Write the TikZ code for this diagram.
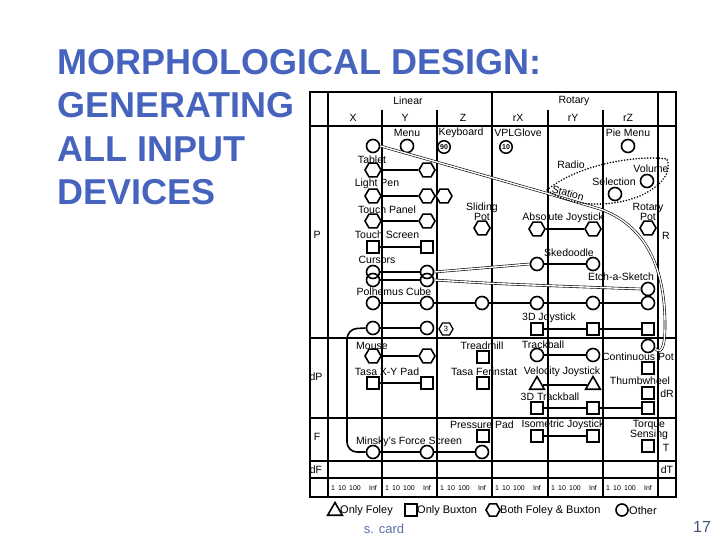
\documentclass[tikz,border=0pt]{standalone}
\usepackage{fontspec}
\setmainfont{Liberation Sans}
\usepackage{xcolor}
\definecolor{titreBleu}{HTML}{4664BE}
\definecolor{piedBleu}{HTML}{5A6EA6}
\definecolor{numBleu}{HTML}{44527E}
\usepackage{tikz}
\usetikzlibrary{shapes.geometric}
\tikzset{
  %% ── Grid ─────────────────────────────────────────────────────────────
  cadre/.style       = {line width=2.6pt},
  trait/.style       = {line width=2.2pt},
  %%
  %% ── Devices ──────────────────────────────────────────────────────────
  noeud/.style       = {draw, line width=1.6pt, inner sep=0pt, fill=white},
  noeudRond/.style   = {noeud, circle, minimum size=13pt},
  noeudHexa/.style   = {noeud, regular polygon, regular polygon sides=6,
                        minimum size=16pt},
  noeudCarre/.style  = {noeud, rectangle, minimum size=12pt},
  noeudTri/.style    = {noeud, regular polygon, regular polygon sides=3,
                        minimum size=17pt},
  noeudNum/.style    = {noeudRond, minimum size=12.5pt, line width=1.5pt,
                        font=\fontsize{7}{7}\selectfont\bfseries},
  %%
  %% ── Links ────────────────────────────────────────────────────────────
  lien/.style        = {line width=1.6pt},
  lienDouble/.style  = {draw=black, line width=0.6pt, double=white,
                        double distance=1.4pt},
  lienPointille/.style = {line width=1.7pt, dash pattern=on 0.1pt off 2.8pt,
                        line cap=round},
  %%
  %% ── Text ─────────────────────────────────────────────────────────────
  etiquette/.style   = {font=\fontsize{10.5}{10}\selectfont, inner sep=0pt,
                        align=center},
  entete/.style      = {font=\fontsize{10.5}{11}\selectfont, inner sep=0pt},
  echelle/.style     = {font=\fontsize{7}{8}\selectfont, inner sep=0pt},
  legende/.style     = {font=\fontsize{11}{12}\selectfont, inner sep=0pt,
                        anchor=west},
  titre/.style       = {font=\fontsize{36}{43}\selectfont\bfseries,
                        text=titreBleu, inner sep=0pt, anchor=base west},
}

\begin{document}
\begin{tikzpicture}[x=1pt, y=-1pt]
\useasboundingbox (0,0) rectangle (720,540);

%% title
\node[titre] (titre1) at (57,75)  {MORPHOLOGICAL DESIGN:};
\node[titre] (titre2) at (57,118) {GENERATING};
\node[titre] (titre3) at (57,162) {ALL INPUT};
\node[titre] (titre4) at (57,205) {DEVICES};

%% grid
\draw[cadre] (310,92) rectangle (676,497);
\foreach \y in {126,338,418,461,478} \draw[trait] (310,\y) -- (676,\y);
\foreach \x in {328,492,658} \draw[trait] (\x,92) -- (\x,497);
\foreach \x in {382,437,548,603} \draw[trait] (\x,110) -- (\x,497);

\node[entete] (linear) at (408,101) {Linear};
\node[entete] (rotary) at (574,101) {Rotary};
\node[entete] (colX)  at (353,118) {X};
\node[entete] (colY)  at (405,118) {Y};
\node[entete] (colZ)  at (463,118) {Z};
\node[entete] (colRX) at (518,118) {rX};
\node[entete] (colRY) at (573,118) {rY};
\node[entete] (colRZ) at (628,118) {rZ};

\node[entete] (rowP)  at (317,235) {P};
\node[entete] (rowDP) at (316,377) {dP};
\node[entete] (rowF)  at (317,437) {F};
\node[entete] (rowDF) at (316,470) {dF};
\node[entete] (rowR)  at (666,236) {R};
\node[entete] (rowDR) at (667,394) {dR};
\node[entete] (rowT)  at (666,448) {T};
\node[entete] (rowDT) at (667,470) {dT};

\foreach \c [count=\i] in {328,382,437,492,548,603} {
  \node[echelle] (un\i)   at (\c+5,488)  {1};
  \node[echelle] (dix\i)  at (\c+14,488) {10};
  \node[echelle] (cent\i) at (\c+27,488) {100};
  \node[echelle] (inf\i)  at (\c+45,488) {Inf};
}

%% P row
\node[noeudRond] (menuX) at (373,146) {};
\node[noeudRond] (menuY) at (407,146) {};
\node[etiquette] (lMenu) at (407,133) {Menu};
\node[noeudNum]  (kbd)   at (444,147) {90};
\node[etiquette] (lKbd)  at (461,133) {Keyboard};
\node[noeudNum]  (glove) at (506,147) {10};
\node[etiquette] (lGlove) at (518,133) {VPLGlove};
\node[noeudRond] (pie)   at (628,146) {};
\node[etiquette] (lPie)  at (628,133) {Pie Menu};

\node[etiquette] (lRadio)  at (571,165) {Radio};
\node[etiquette, rotate=-16] (lStation) at (568,193) {Station};
\node[etiquette] (lVolume) at (651,169) {Volume};
\node[noeudRond] (volume)  at (647,181) {};
\node[etiquette] (lSelect) at (614,182) {Selection};
\node[noeudRond] (select)  at (615,194) {};

\node[noeudHexa] (tabX) at (373,170) {};
\node[noeudHexa] (tabY) at (427,170) {};
\node[etiquette] (lTab) at (372,160) {Tablet};
\node[noeudHexa] (penX) at (373,196) {};
\node[noeudHexa] (penY) at (427,196) {};
\node[noeudHexa] (penZ) at (444,196) {};
\node[etiquette] (lPen) at (377,184) {Light Pen};
\node[noeudHexa] (panX) at (373,221) {};
\node[noeudHexa] (panY) at (427,221) {};
\node[etiquette] (lPan) at (387,210) {Touch Panel};
\node[noeudHexa] (slide) at (482,228) {};
\node[etiquette] (lSlide) at (482,212) {Sliding\\Pot};
\node[noeudHexa] (absX) at (537,229) {};
\node[noeudHexa] (absY) at (593,229) {};
\node[etiquette] (lAbs) at (563,218) {Absolute Joystick};
\node[noeudHexa] (rotPot) at (648,228) {};
\node[etiquette] (lRotPot) at (648,212) {Rotary\\Pot};

\node[noeudCarre] (scrX) at (373,247) {};
\node[noeudCarre] (scrY) at (427,247) {};
\node[etiquette] (lScr) at (387,235) {Touch Screen};
\node[noeudRond] (skedX) at (537,264) {};
\node[noeudRond] (skedY) at (593,264) {};
\node[etiquette] (lSked) at (569,253) {Skedoodle};
\node[noeudRond, fill=none] (curAX) at (373,272) {};
\node[noeudRond, fill=none] (curBX) at (373,280) {};
\node[noeudRond, fill=none] (curAY) at (427,272) {};
\node[noeudRond, fill=none] (curBY) at (427,280) {};
\node[etiquette] (lCur) at (377,260) {Cursors};
\node[noeudRond] (etch) at (648,289) {};
\node[etiquette] (lEtch) at (621,277) {Etch-a-Sketch};

\node[noeudRond] (polX)  at (373,303) {};
\node[noeudRond] (polY)  at (427,303) {};
\node[noeudRond] (polZ)  at (482,303) {};
\node[noeudRond] (polRX) at (537,303) {};
\node[noeudRond] (polRY) at (593,303) {};
\node[noeudRond] (polRZ) at (648,303) {};
\node[etiquette] (lPol) at (394,292) {Polhemus Cube};

\node[noeudRond] (sixX) at (373,328) {};
\node[noeudRond] (sixY) at (427,328) {};
\node[noeudHexa, minimum size=14pt, line width=1.3pt,
      font=\fontsize{7.5}{8}\selectfont] (num3) at (446,329) {3};
\node[noeudCarre] (joyX) at (537,329) {};
\node[noeudCarre] (joyY) at (593,329) {};
\node[noeudCarre] (joyZ) at (648,329) {};
\node[etiquette] (lJoy) at (549,318) {3D Joystick};
\node[noeudRond] (cpRond) at (648,346) {};

%% dP row
\node[noeudHexa] (mouseX) at (373,356) {};
\node[noeudHexa] (mouseY) at (427,356) {};
\node[etiquette] (lMouse) at (372,346) {Mouse};
\node[noeudCarre] (tread) at (483,357) {};
\node[etiquette] (lTread) at (482,346) {Treadmill};
\node[noeudRond] (trkX) at (537,355) {};
\node[noeudRond] (trkY) at (593,355) {};
\node[etiquette] (lTrk) at (543,345) {Trackball};
\node[etiquette] (lCp) at (638,357) {Continuous Pot};
\node[noeudCarre] (cpCarre) at (648,368) {};

\node[noeudCarre] (padX) at (373,383) {};
\node[noeudCarre] (padY) at (427,383) {};
\node[etiquette] (lPad) at (387,372) {Tasa X-Y Pad};
\node[noeudCarre] (ferin) at (483,383) {};
\node[etiquette] (lFerin) at (484,372) {Tasa Ferinstat};
\node[noeudTri] (velX) at (537,385) {};
\node[noeudTri] (velY) at (593,385) {};
\node[etiquette] (lVel) at (562,372) {Velocity Joystick};
\node[etiquette] (lThumb) at (640,381) {Thumbwheel};
\node[noeudCarre] (thumb) at (648,393) {};
\node[noeudCarre] (trbX) at (537,408) {};
\node[noeudCarre] (trbY) at (593,408) {};
\node[noeudCarre] (trbZ) at (648,408) {};
\node[etiquette] (lTrb) at (550,397) {3D Trackball};

%% F row
\node[noeudCarre] (press) at (483,436) {};
\node[etiquette] (lPress) at (482,425) {Pressure Pad};
\node[noeudCarre] (isoX) at (537,436) {};
\node[noeudCarre] (isoY) at (593,436) {};
\node[etiquette] (lIso) at (563,425) {Isometric Joystick};
\node[noeudCarre] (torque) at (648,446) {};
\node[etiquette] (lTorque) at (649,430) {Torque\\Sensing};
\node[noeudRond] (minX) at (373,452) {};
\node[noeudRond] (minY) at (427,452) {};
\node[noeudRond] (minZ) at (482,452) {};
\node[etiquette] (lMin) at (409,442) {Minsky's Force Screen};

%% links
\draw[lien] (tabX) -- (tabY);
\draw[lien] (penX) -- (penY);
\draw[lien] (panX) -- (panY);
\draw[lien] (absX) -- (absY);
\draw[lien] (scrX) -- (scrY);
\draw[lien] (skedX) -- (skedY);
\draw[lien] (curAX.east) -- (curAY.west);
\draw[lien] (curBX.east) -- (curBY.west);
\draw[lien] (polX) -- (polY) -- (polZ) -- (polRX) -- (polRY) -- (polRZ);
\draw[lien] (sixX) -- (sixY);
\draw[lien] (joyX) -- (joyY) -- (joyZ);
\draw[lien] (mouseX) -- (mouseY);
\draw[lien] (trkX) -- (trkY);
\draw[lien] (padX) -- (padY);
\draw[lien] (velX) -- (velY);
\draw[lien] (trbX) -- (trbY) -- (trbZ);
\draw[lien] (isoX) -- (isoY);
\draw[lien] (minX) -- (minY) -- (minZ);
\draw[lien, rounded corners=10pt] (sixX.west) -- (347,329) -- (347,452) -- (minX.west);

\draw[lienDouble] (curAY.east) -- (skedX.west);
\draw[lienDouble] (curBY.east) .. controls (500,284) .. (etch.west);
\draw[lienDouble] (menuX.east) -- (546,193) -- (600,209)
     .. controls (642,224) and (665,262) .. (665,325)
     .. controls (665,352) and (660,353) .. (cpRond.-20);

\coordinate (radioPt) at (547,190);
\draw[lienPointille] (radioPt) .. controls (580,163) and (640,155) .. (667,159)
     .. controls (672,172) and (662,186) .. (640,196)
     .. controls (610,208) and (570,207) .. (radioPt);

%% legend
\node[noeudTri, minimum size=17pt] (legTri) at (335,511) {};
\node[legende] (lLegTri) at (340,511) {Only Foley};
\node[noeudCarre] (legCarre) at (411,510) {};
\node[legende] (lLegCarre) at (417,511) {Only Buxton};
\node[noeudHexa, minimum size=14pt] (legHexa) at (493,510) {};
\node[legende] (lLegHexa) at (500,511) {Both Foley \& Buxton};
\node[noeudRond, minimum size=12pt] (legRond) at (622,510) {};
\node[legende] (lLegRond) at (629,511) {Other};

%% footer
\node[font=\fontsize{13}{14}\selectfont, text=piedBleu, inner sep=0pt]
     (auteur) at (384,529) {s. card};
\node[font=\fontsize{16}{17}\selectfont, text=numBleu, inner sep=0pt]
     (page) at (702,527) {17};

\end{tikzpicture}
\end{document}
